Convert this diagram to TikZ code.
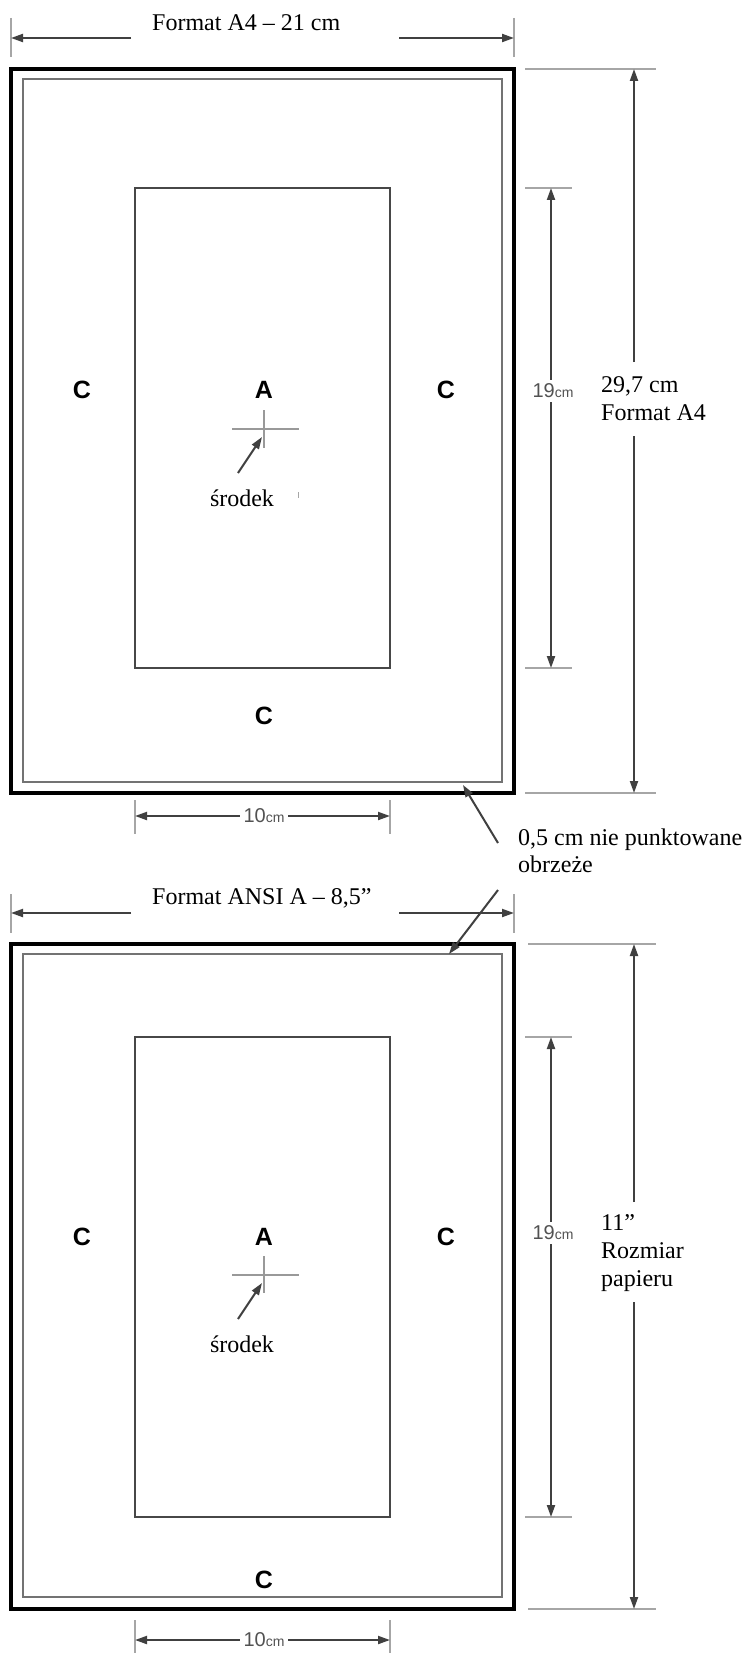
\documentclass[tikz,border=0pt]{standalone}
\usepackage{fontspec}
\setmainfont{Liberation Serif}
\newfontfamily\lsans{Liberation Sans}
\usetikzlibrary{arrows.meta}
\tikzset{
  outerframe/.style={line width=4.5pt, black},
  innerframe/.style={line width=2.5pt, black!55},
  arect/.style={line width=2pt, black!72},
  crossline/.style={line width=2.5pt, black!40},
  dimline/.style={line width=2pt, black!75},
  tickline/.style={line width=1.5pt, black!35},
  tipend/.style={-{Triangle[length=12pt,width=8pt]}},
  tipboth/.style={{Triangle[length=12pt,width=8pt]}-{Triangle[length=12pt,width=8pt]}},
  caption/.style={font=\fontsize{24}{28}\selectfont, align=left, inner sep=0pt},
  bigletter/.style={font=\lsans\bfseries\fontsize{25}{25}\selectfont, inner sep=0pt},
  smalldim/.style={font=\lsans\fontsize{20}{20}\selectfont, text=black!68, fill=white, inner xsep=4pt, inner ysep=4pt},
  speck/.style={line width=1pt, black!35},
}
\newcommand\smallcm{{\fontsize{14}{14}\selectfont cm}}
\begin{document}
\begin{tikzpicture}[x=1pt,y=-1pt]
  \useasboundingbox[fill=white] (0,0) rectangle (746,1653);
  % ================= TOP SHEET (A4) =================
  \coordinate (to1) at (11,69); \coordinate (to2) at (514,793);
  \coordinate (ti1) at (23,79); \coordinate (ti2) at (502,782);
  \coordinate (ta1) at (135,188); \coordinate (ta2) at (390,668);
  \draw[outerframe] (to1) rectangle (to2);
  \draw[innerframe] (ti1) rectangle (ti2);
  \draw[arect] (ta1) rectangle (ta2);
  \node[bigletter] (tA) at (264,390) {A};
  \node[bigletter] (tCl) at (82,390) {C};
  \node[bigletter] (tCr) at (446,390) {C};
  \node[bigletter] (tCb) at (264,716) {C};
  \coordinate (th1) at (232,429); \coordinate (th2) at (299,429);
  \coordinate (tv1) at (264,410); \coordinate (tv2) at (264,448);
  \draw[crossline] (th1) -- (th2);
  \draw[crossline] (tv1) -- (tv2);
  \node[caption] (tsr) at (242,498) {środek};
  \coordinate (tss) at (238,473); \coordinate (tse) at (262,437);
  \draw[dimline, tipend] (tss) -- (tse);
  \coordinate (tsp1) at (298,492); \coordinate (tsp2) at (298,498);
  \draw[speck] (tsp1) -- (tsp2);
  % width dimension
  \coordinate (tk1a) at (11,18); \coordinate (tk1b) at (11,57);
  \coordinate (tk2a) at (514,18); \coordinate (tk2b) at (514,57);
  \draw[tickline] (tk1a) -- (tk1b);
  \draw[tickline] (tk2a) -- (tk2b);
  \coordinate (tw1) at (131,38); \coordinate (tw1e) at (11,38);
  \coordinate (tw2) at (399,38); \coordinate (tw2e) at (514,38);
  \draw[dimline, tipend] (tw1) -- (tw1e);
  \draw[dimline, tipend] (tw2) -- (tw2e);
  \node[caption, anchor=west] (tcap) at (152,23) {Format A4 -- 21 cm};
  % 19cm
  \coordinate (tn1a) at (525,188); \coordinate (tn1b) at (572,188);
  \coordinate (tn2a) at (525,668); \coordinate (tn2b) at (572,668);
  \draw[tickline] (tn1a) -- (tn1b);
  \draw[tickline] (tn2a) -- (tn2b);
  \coordinate (tn1) at (551,188); \coordinate (tn2) at (551,668);
  \draw[dimline, tipboth] (tn1) -- (tn2);
  \node[smalldim] (tnl) at (553,391) {19\smallcm};
  % 29,7 cm
  \coordinate (tp1a) at (525,69); \coordinate (tp1b) at (656,69);
  \coordinate (tp2a) at (525,793); \coordinate (tp2b) at (656,793);
  \draw[tickline] (tp1a) -- (tp1b);
  \draw[tickline] (tp2a) -- (tp2b);
  \coordinate (tp1) at (634,69); \coordinate (tp2) at (634,793);
  \coordinate (tg1) at (634,362); \coordinate (tg2) at (634,436);
  \draw[dimline, tipend] (tg1) -- (tp1);
  \draw[dimline, tipend] (tg2) -- (tp2);
  \node[caption, anchor=west] (thcap) at (601,399) {29,7 cm\\Format A4};
  % 10cm
  \coordinate (tm1a) at (135,800); \coordinate (tm1b) at (135,834);
  \coordinate (tm2a) at (390,800); \coordinate (tm2b) at (390,834);
  \draw[tickline] (tm1a) -- (tm1b);
  \draw[tickline] (tm2a) -- (tm2b);
  \coordinate (tm1) at (135,816); \coordinate (tm2) at (390,816);
  \draw[dimline, tipboth] (tm1) -- (tm2);
  \node[smalldim] (tml) at (264,816) {10\smallcm};
  % ================= BOTTOM SHEET (ANSI A) =================
  \coordinate (bo1) at (11,944); \coordinate (bo2) at (514,1609);
  \coordinate (bi1) at (23,954); \coordinate (bi2) at (502,1597);
  \coordinate (ba1) at (135,1037); \coordinate (ba2) at (390,1517);
  \draw[outerframe] (bo1) rectangle (bo2);
  \draw[innerframe] (bi1) rectangle (bi2);
  \draw[arect] (ba1) rectangle (ba2);
  \node[bigletter] (bA) at (264,1237) {A};
  \node[bigletter] (bCl) at (82,1237) {C};
  \node[bigletter] (bCr) at (446,1237) {C};
  \node[bigletter] (bCb) at (264,1580) {C};
  \coordinate (bh1) at (232,1275); \coordinate (bh2) at (299,1275);
  \coordinate (bv1) at (264,1256); \coordinate (bv2) at (264,1293);
  \draw[crossline] (bh1) -- (bh2);
  \draw[crossline] (bv1) -- (bv2);
  \node[caption] (bsr) at (242,1344) {środek};
  \coordinate (bss) at (238,1319); \coordinate (bse) at (262,1283);
  \draw[dimline, tipend] (bss) -- (bse);
  % width dimension
  \coordinate (bk1a) at (11,894); \coordinate (bk1b) at (11,933);
  \coordinate (bk2a) at (514,894); \coordinate (bk2b) at (514,933);
  \draw[tickline] (bk1a) -- (bk1b);
  \draw[tickline] (bk2a) -- (bk2b);
  \coordinate (bw1) at (131,913); \coordinate (bw1e) at (11,913);
  \coordinate (bw2) at (399,913); \coordinate (bw2e) at (514,913);
  \draw[dimline, tipend] (bw1) -- (bw1e);
  \draw[dimline, tipend] (bw2) -- (bw2e);
  \node[caption, anchor=west] (bcap) at (152,898) {Format ANSI A -- 8,5”};
  % 19cm
  \coordinate (bn1a) at (525,1037); \coordinate (bn1b) at (572,1037);
  \coordinate (bn2a) at (525,1517); \coordinate (bn2b) at (572,1517);
  \draw[tickline] (bn1a) -- (bn1b);
  \draw[tickline] (bn2a) -- (bn2b);
  \coordinate (bn1) at (551,1037); \coordinate (bn2) at (551,1517);
  \draw[dimline, tipboth] (bn1) -- (bn2);
  \node[smalldim] (bnl) at (553,1233) {19\smallcm};
  % 11"
  \coordinate (bp1a) at (528,944); \coordinate (bp1b) at (656,944);
  \coordinate (bp2a) at (528,1609); \coordinate (bp2b) at (656,1609);
  \draw[tickline] (bp1a) -- (bp1b);
  \draw[tickline] (bp2a) -- (bp2b);
  \coordinate (bp1) at (634,944); \coordinate (bp2) at (634,1609);
  \coordinate (bg1) at (634,1202); \coordinate (bg2) at (634,1302);
  \draw[dimline, tipend] (bg1) -- (bp1);
  \draw[dimline, tipend] (bg2) -- (bp2);
  \node[caption, anchor=west] (bhcap) at (601,1253) {11”\\Rozmiar\\papieru};
  % 10cm
  \coordinate (bm1a) at (135,1620); \coordinate (bm1b) at (135,1653);
  \coordinate (bm2a) at (390,1620); \coordinate (bm2b) at (390,1653);
  \draw[tickline] (bm1a) -- (bm1b);
  \draw[tickline] (bm2a) -- (bm2b);
  \coordinate (bm1) at (135,1640); \coordinate (bm2) at (390,1640);
  \draw[dimline, tipboth] (bm1) -- (bm2);
  \node[smalldim] (bml) at (264,1640) {10\smallcm};
  % ================= CALLOUT =================
  \node[caption, anchor=west, font=\fontsize{24}{27}\selectfont] (cap) at (518,851) {0,5 cm nie punktowane\\obrzeże};
  \coordinate (c1s) at (498,843); \coordinate (c1e) at (463,785);
  \coordinate (c2s) at (498,890); \coordinate (c2e) at (449,954);
  \draw[dimline, tipend] (c1s) -- (c1e);
  \draw[dimline, tipend] (c2s) -- (c2e);
\end{tikzpicture}
\end{document}
